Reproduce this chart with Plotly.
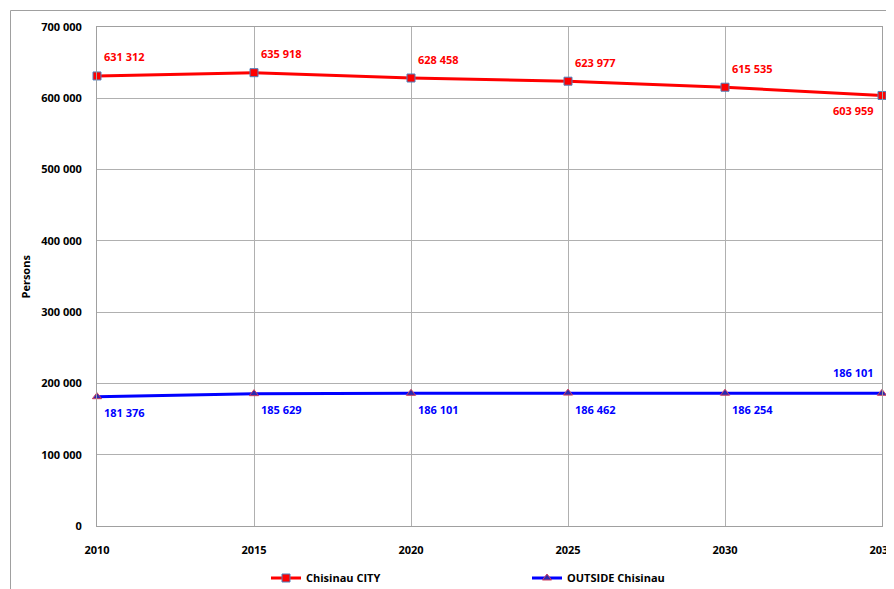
import plotly.graph_objects as go

years = [2010, 2015, 2020, 2025, 2030, 2035]
city = [631312, 635918, 628458, 623977, 615535, 603959]
outside = [181376, 185629, 186101, 186462, 186254, 186101]
city_labels = ["631 312", "635 918", "628 458", "623 977", "615 535", "603 959"]
outside_labels = ["181 376", "185 629", "186 101", "186 462", "186 254", "186 101"]
y_ticks = [0, 100000, 200000, 300000, 400000, 500000, 600000, 700000]
y_tick_text = ["0", "100 000", "200 000", "300 000", "400 000", "500 000", "600 000", "700 000"]

FONT = "Open Sans, Noto Sans, DejaVu Sans, sans-serif"

fig = go.Figure()
fig.add_trace(go.Scatter(
    x=years, y=city, mode="lines+markers", name="Chisinau CITY",
    line=dict(color="#ff0000", width=3),
    marker=dict(symbol="square", size=8, color="#ff0000", line=dict(color="#4f81bd", width=1)),
    cliponaxis=False,
))
fig.add_trace(go.Scatter(
    x=years, y=outside, mode="lines+markers", name="OUTSIDE Chisinau",
    line=dict(color="#0000ff", width=3),
    marker=dict(symbol="triangle-up", size=8, color="#2a2ab0", line=dict(color="#d04060", width=1)),
    cliponaxis=False,
))

annotations = []
n = len(years)
for i, (xv, yv, t) in enumerate(zip(years, city, city_labels)):
    last = i == n - 1
    annotations.append(dict(
        x=xv, y=yv, text=t, showarrow=False,
        xanchor="right" if last else "left", yanchor="middle",
        xshift=-6 if last else 5, yshift=-15 if last else 19,
        font=dict(color="#ff0000", size=11, family=FONT, weight="bold")))
for i, (xv, yv, t) in enumerate(zip(years, outside, outside_labels)):
    last = i == n - 1
    annotations.append(dict(
        x=xv, y=yv, text=t, showarrow=False,
        xanchor="right" if last else "left", yanchor="middle",
        xshift=-6 if last else 5, yshift=21 if last else -16,
        font=dict(color="#0000ff", size=11, family=FONT, weight="bold")))

# page body has an 8px margin: compensate so the plot area lands at x 97..882, y 27..526
OFF = 8
L, T, PW, PH = 97 - OFF, 27 - OFF, 785, 499
W, H = 894, 589 - OFF

annotations.append(dict(text="Persons", x=(25 - 97) / PW, y=0.5, xref="paper", yref="paper",
                        textangle=-90, showarrow=False, xanchor="center", yanchor="middle",
                        font=dict(size=11, family=FONT, weight="bold", color="#000000")))

fig.update_layout(
    width=W, height=H,
    margin=dict(l=L, r=W - L - PW, t=T, b=H - T - PH, autoexpand=False),
    paper_bgcolor="white", plot_bgcolor="white",
    font=dict(family=FONT, size=11, color="#000000"),
    showlegend=True,
    legend=dict(orientation="h", x=(266 - 97) / PW, xanchor="left", y=-52 / PH, yanchor="middle",
                font=dict(size=11, family=FONT, weight="bold", color="#000000"),
                itemwidth=30, entrywidthmode="pixels", entrywidth=216),
    xaxis=dict(range=[2010, 2035], tickvals=years, showgrid=True, gridcolor="#b0b0b0",
               gridwidth=1, showline=True, linecolor="#a0a0a0", mirror=True, zeroline=False,
               tickfont=dict(size=11, family=FONT, weight="bold"), ticks="", ticklabelstandoff=14,
               ticklabeloverflow="allow", automargin=False),
    yaxis=dict(range=[0, 700000], tickvals=y_ticks, ticktext=y_tick_text, showgrid=True,
               gridcolor="#b0b0b0", gridwidth=1, showline=True, linecolor="#a0a0a0",
               mirror=True, zeroline=False, ticks="", ticklabelstandoff=12, automargin=False,
               tickfont=dict(size=11, family=FONT, weight="bold")),
    annotations=annotations,
    shapes=[dict(type="rect", xref="paper", yref="paper",
                 x0=(10.5 - 97) / PW, x1=1.1, y0=-0.3, y1=1 + (27 - 10.5) / PH,
                 line=dict(color="#a0a0a0", width=1), layer="below")],
)

fig.write_html("out.html")
